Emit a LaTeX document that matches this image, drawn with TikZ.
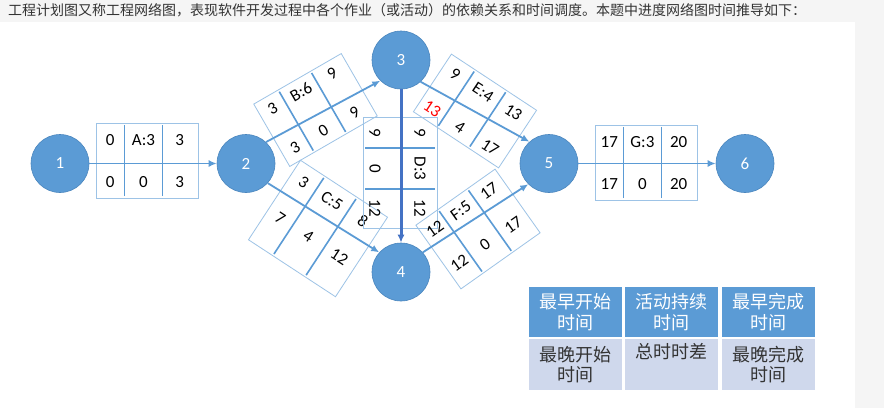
\documentclass[tikz,border=0pt]{standalone}
\usepackage{fontspec}
\setmainfont{Carlito}
\newfontfamily\cjk{Noto Sans CJK SC}
\usepackage{xcolor}
\usepackage{tikz}
\usetikzlibrary{arrows.meta}
\definecolor{evblue}{HTML}{5B9BD5}
\definecolor{evedge}{HTML}{4A86BE}
\definecolor{critblue}{HTML}{4472C4}
\definecolor{boxblue}{HTML}{9DC3E6}
\definecolor{cellbg}{HTML}{CFD8EC}
\definecolor{pagegray}{HTML}{F5F5F5}
\definecolor{headtext}{HTML}{333333}
\tikzset{>={Latex[length=8,width=7]}}
\tikzstyle{event}=[circle,fill=evblue,draw=evedge,line width=0.6,minimum size=58,inner sep=0,text=white,font=\fontsize{17}{20}\selectfont]
\tikzstyle{link}=[->,evblue,line width=1.8]
\tikzstyle{critical}=[->,critblue,line width=3]
\tikzstyle{boxline}=[boxblue,line width=0.8]
\tikzstyle{cellline}=[evblue,line width=1.6]
\tikzstyle{celltext}=[inner sep=0,font=\fontsize{17}{20}\selectfont]
\tikzstyle{headcell}=[fill=evblue,text=white,minimum width=93,minimum height=50,inner sep=0,align=center,font=\cjk\fontsize{18}{20.5}\selectfont]
\tikzstyle{bodycell}=[fill=cellbg,text=headtext,minimum width=93,minimum height=51,inner sep=0,align=center,font=\cjk\fontsize{18}{20.5}\selectfont]
% activity box: center, angle, length, height, top row y, bottom row y, top row, bottom row, name
\newcommand{\actbox}[9]{%
  \begin{scope}[shift={#1},rotate=#2]
    \draw[boxline] ({-#3/2},{-#4/2}) rectangle ({#3/2},{#4/2});
    \foreach \f in {0.28,0.65}
      \draw[cellline] ({(\f-0.5)*#3},{-#4/2+2}) -- ({(\f-0.5)*#3},{#4/2-2});
    \foreach \t [count=\k] in {#7} {
      \pgfmathsetmacro\fx{{0.14,0.465,0.82}[\k-1]}
      \node[celltext,transform shape] (#9t\k) at ({(\fx-0.5)*#3},#5) {\t};}
    \foreach \t [count=\k] in {#8} {
      \pgfmathsetmacro\fx{{0.14,0.465,0.82}[\k-1]}
      \node[celltext,transform shape] (#9b\k) at ({(\fx-0.5)*#3},#6) {\t};}
  \end{scope}}

\begin{document}
\begin{tikzpicture}[x=1pt,y=1pt]
  \useasboundingbox (0,0) rectangle (884,-408);
  \fill[pagegray] (0,0) rectangle (884,-408);
  \fill[white] (0,-22) rectangle (855,-408);
  \node[anchor=west,inner sep=0,text=headtext,font=\cjk\fontsize{14}{16}\selectfont] (title) at (8,-10.5)
    {工程计划图又称工程网络图，表现软件开发过程中各个作业（或活动）的依赖关系和时间调度。本题中进度网络图时间推导如下：};

  % activity boxes
  \actbox{(147,-160.5)}{0}{102}{75}{20.5}{-21.5}{0,A:3,3}{0,0,3}{a}
  \actbox{(315.5,-110)}{30}{101}{72}{23}{-22}{3,B:6,9}{3,0,9}{b}
  \actbox{(318,-228.5)}{-33.2}{104}{95}{31}{-12}{3,C:5,8}{7,4,12}{c}
  \actbox{(400,-172.5)}{-90}{111}{74}{20}{-25}{9,D:3,12}{9,0,12}{d}
  \actbox{(475,-111)}{-33.4}{102}{69}{20}{-22}{9,E:4,13}{{\textcolor{red}{13}},4,17}{e}
  \actbox{(478,-229)}{35.3}{97}{78}{25}{-17}{12,F:5,17}{12,0,17}{f}
  \actbox{(646,-162.5)}{0}{102}{75}{20.5}{-21.5}{17,G:3,20}{17,0,20}{g}

  % events
  \node[event] (n1) at (60,-163.5) {1};
  \node[event] (n2) at (246,-163.5) {2};
  \node[event] (n3) at (401,-60) {3};
  \node[event] (n4) at (401,-272) {4};
  \node[event] (n5) at (549,-163.5) {5};
  \node[event] (n6) at (745,-163.5) {6};

  \draw[link] (n1) -- (n2);
  \draw[link] (n2.47) -- (n3.225);
  \draw[link] (n2.318) -- (n4.138);
  \draw[critical] (n3) -- (n4);
  \draw[link] (n3.312) -- (n5.132);
  \draw[link] (n4.42) -- (n5.225);
  \draw[link] (n5) -- (n6);

  % legend
  \node[headcell] (h1) at (575.5,-312) {最早开始\\时间};
  \node[headcell] (h2) at (671,-312) {活动持续\\时间};
  \node[headcell] (h3) at (768.5,-312) {最早完成\\时间};
  \node[bodycell] (b1) at (575.5,-364.5) {最晚开始\\时间};
  \node[bodycell] (b2) at (671,-364.5) {总时时差\\\strut};
  \node[bodycell] (b3) at (768.5,-364.5) {最晚完成\\时间};
\end{tikzpicture}
\end{document}
